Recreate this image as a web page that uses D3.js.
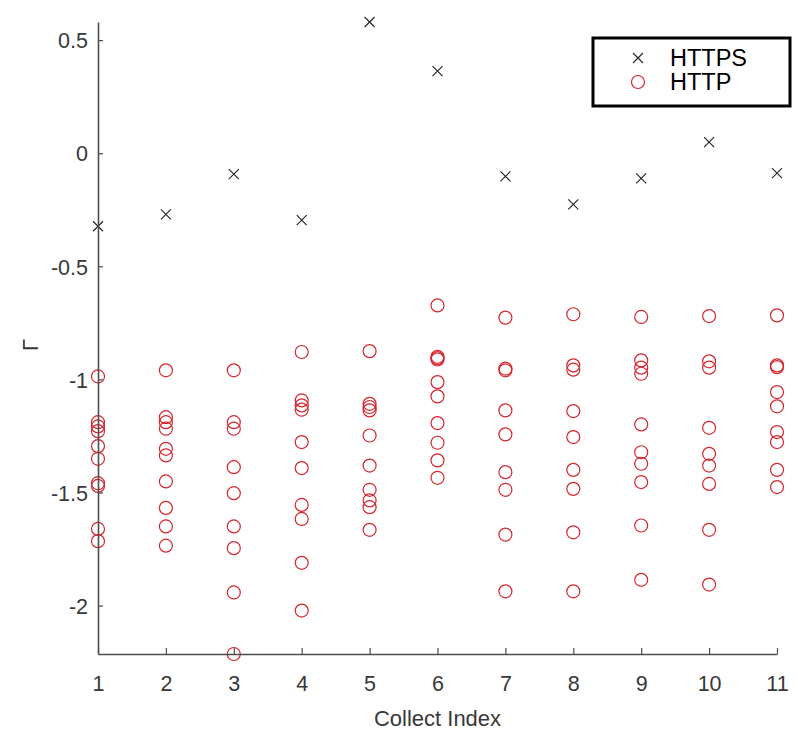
<!DOCTYPE html>
<html>
<head>
<meta charset="utf-8">
<script src="https://cdn.jsdelivr.net/npm/d3@7"></script>
<style>
  html, body { margin: 0; padding: 0; background: #fff; }
  svg { display: block; }
</style>
</head>
<body>
<svg id="chart" width="798" height="731"></svg>
<script>
// ---- Data ----
const collectIndex = [1, 2, 3, 4, 5, 6, 7, 8, 9, 10, 11];
const httpsValues = [-0.323, -0.270, -0.093, -0.296, 0.580, 0.363, -0.102, -0.226, -0.111, 0.049, -0.088];
const httpValues = [
  [-0.987, -1.189, -1.208, -1.229, -1.295, -1.351, -1.459, -1.471, -1.661, -1.715],
  [-0.960, -1.167, -1.189, -1.218, -1.307, -1.336, -1.451, -1.568, -1.650, -1.735],
  [-0.960, -1.189, -1.218, -1.388, -1.503, -1.650, -1.746, -1.942, -2.214],
  [-0.879, -1.093, -1.115, -1.134, -1.277, -1.392, -1.555, -1.617, -1.811, -2.022],
  [-0.875, -1.108, -1.122, -1.137, -1.248, -1.381, -1.488, -1.535, -1.565, -1.665],
  [-0.673, -0.900, -0.906, -0.912, -1.012, -1.075, -1.193, -1.280, -1.358, -1.435],
  [-0.727, -0.952, -0.960, -1.137, -1.243, -1.410, -1.488, -1.686, -1.937],
  [-0.712, -0.938, -0.957, -1.140, -1.255, -1.400, -1.484, -1.676, -1.937],
  [-0.724, -0.916, -0.948, -0.975, -1.199, -1.322, -1.373, -1.454, -1.646, -1.886],
  [-0.720, -0.920, -0.948, -1.214, -1.329, -1.381, -1.462, -1.665, -1.907],
  [-0.717, -0.938, -0.946, -1.056, -1.119, -1.233, -1.277, -1.400, -1.476]
];
const yTicks = [0.5, 0, -0.5, -1, -1.5, -2];
const yTickLabels = ["0.5", "0", "-0.5", "-1", "-1.5", "-2"];
const xTicks = [1, 2, 3, 4, 5, 6, 7, 8, 9, 10, 11];
const seriesNames = ["HTTPS", "HTTP"];
const xLabel = "Collect Index";
const yLabel = "Γ";

(function () {
// ---- Layout ----
const svg = d3.select("#chart");
const mLeft = 98, mRight = 777, mTop = 22, mBottom = 654;
const FONT = "'Liberation Sans', Arial, Helvetica, sans-serif";

const httpPoints = [];
httpValues.forEach((col, i) => col.forEach(v => httpPoints.push({x: collectIndex[i], y: v})));
const httpsPoints = httpsValues.map((v, i) => ({x: collectIndex[i], y: v}));
const allY = httpPoints.map(d => d.y).concat(httpsValues);

const x = d3.scaleLinear().domain(d3.extent(collectIndex)).range([mLeft, mRight]);
const y = d3.scaleLinear().domain(d3.extent(allY)).range([mBottom, mTop]);

const axisColor = "#4d4d4d";
const textColor = "#383838";

// ---- Points ----
svg.append("g").selectAll("circle").data(httpPoints).join("circle")
  .attr("cx", d => x(d.x)).attr("cy", d => y(d.y)).attr("r", 6.5)
  .attr("fill", "none").attr("stroke", "#d3262e").attr("stroke-width", 1.2);

const s = 5;
const crossPath = d => {
  const cx = x(d.x), cy = y(d.y);
  return `M${cx - s},${cy - s}L${cx + s},${cy + s}M${cx - s},${cy + s}L${cx + s},${cy - s}`;
};
svg.append("g").selectAll("path").data(httpsPoints).join("path")
  .attr("d", crossPath).attr("fill", "none").attr("stroke", "#222").attr("stroke-width", 1.1);

// ---- Axes ----
const yAxis = d3.axisLeft(y).tickValues(yTicks)
  .tickFormat((d, i) => yTickLabels[i]).tickSizeInner(-5).tickSizeOuter(0).tickPadding(10);
const gy = svg.append("g").attr("transform", `translate(${mLeft},0)`).call(yAxis);

const xAxis = d3.axisBottom(x).tickValues(xTicks).tickFormat(d3.format("d"))
  .tickSizeInner(-6).tickSizeOuter(0).tickPadding(22);
const gx = svg.append("g").attr("transform", `translate(0,${mBottom})`).call(xAxis);

[gx, gy].forEach(g => {
  g.select(".domain").attr("stroke", axisColor).attr("stroke-width", 1.6);
  g.selectAll(".tick line").attr("stroke", axisColor).attr("stroke-width", 1.2);
  g.selectAll(".tick text").attr("fill", textColor).style("font-family", FONT).style("font-size", "21.5px");
});
gy.selectAll(".tick text").attr("dy", "0.36em");
gx.selectAll(".tick text").attr("dy", "0.71em");

// ---- Axis labels ----
svg.append("text").attr("x", (mLeft + mRight) / 2).attr("y", 726)
  .attr("text-anchor", "middle").attr("fill", textColor)
  .style("font-family", FONT).style("font-size", "22px").text(xLabel);

svg.append("text").attr("transform", `translate(38,345) rotate(-90)`)
  .attr("text-anchor", "middle").attr("fill", textColor)
  .style("font-family", FONT).style("font-size", "22px").text(yLabel);

// ---- Legend ----
const lg = svg.append("g");
lg.append("rect").attr("x", 593).attr("y", 38).attr("width", 197).attr("height", 68)
  .attr("fill", "#fff").attr("stroke", "#000").attr("stroke-width", 3);
const legendRows = [{name: seriesNames[0], cy: 58}, {name: seriesNames[1], cy: 82}];
const mx = 638;
lg.append("path")
  .attr("d", `M${mx - s},${legendRows[0].cy - s}L${mx + s},${legendRows[0].cy + s}M${mx - s},${legendRows[0].cy + s}L${mx + s},${legendRows[0].cy - s}`)
  .attr("stroke", "#222").attr("stroke-width", 1.1).attr("fill", "none");
lg.append("circle").attr("cx", mx).attr("cy", legendRows[1].cy).attr("r", 6.5)
  .attr("fill", "none").attr("stroke", "#d3262e").attr("stroke-width", 1.2);
lg.selectAll("text.leg").data(legendRows).join("text").attr("class", "leg")
  .attr("x", 670).attr("y", d => d.cy).attr("dy", "0.36em")
  .attr("fill", "#000").style("font-family", FONT).style("font-size", "23.5px")
  .text(d => d.name);
})();
</script>
</body>
</html>
